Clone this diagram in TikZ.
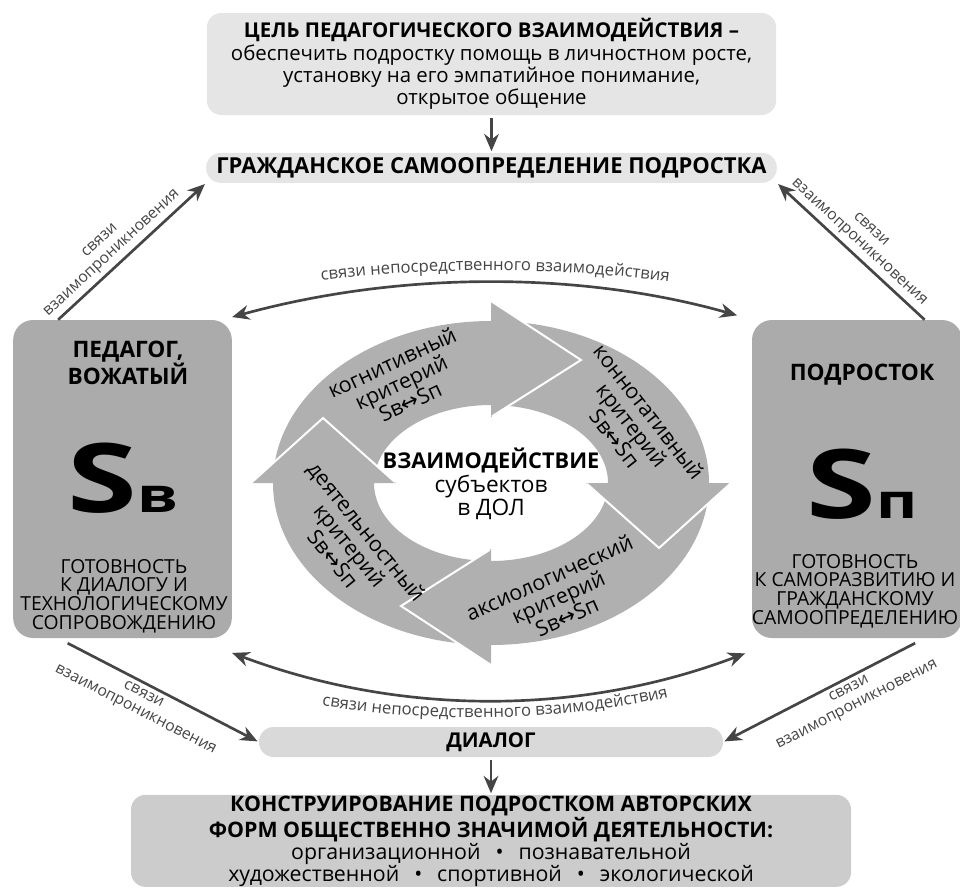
\documentclass[tikz,border=0pt]{standalone}
\usepackage{fontspec}
\setmainfont{Open Sans}
\newfontfamily\arrowfont{DejaVu Sans}
\usetikzlibrary{arrows.meta,positioning,decorations.text}

\definecolor{palegray}{gray}{0.90}
\definecolor{dialgray}{gray}{0.85}
\definecolor{formgray}{gray}{0.80}
\definecolor{subjgray}{gray}{0.67}
\definecolor{ringgray}{gray}{0.69}
\definecolor{linkgray}{gray}{0.27}

\newcommand{\boxfont}{\fontsize{15.3}{16.8}\selectfont}
\newcommand{\civicfont}{\fontsize{16.5}{17}\selectfont\bfseries}
\newcommand{\titlefont}{\fontsize{17}{17.2}\selectfont\bfseries}
\newcommand{\formfont}{\fontsize{16}{16.5}\selectfont}
\newcommand{\readyfont}{\fontsize{14.5}{13.9}\selectfont}
\newcommand{\labfont}{\fontsize{11.8}{13}\selectfont}
\newcommand{\curvefont}{\fontsize{12.5}{13.5}\selectfont}
\newcommand{\ringfont}{\fontsize{16}{16.2}\selectfont}
\newcommand{\centerfont}{\fontsize{17}{15.4}\selectfont}
\newcommand{\bigS}{\fontsize{72}{72}\selectfont\bfseries}
\newcommand{\smallS}{\fontsize{36}{36}\selectfont\bfseries}
\newcommand{\subjsym}[1]{\scalebox{1.32}[1]{\bigS S\smallS #1}}
\newcommand{\bothway}{{\arrowfont ↔}}
\newcommand{\dotsep}{\hspace{0.7em}•\hspace{0.7em}}

\begin{document}
\begin{tikzpicture}[x=0.75pt,y=-0.75pt,>={Stealth[length=13pt,width=11pt]},
    shorten >=1pt,node distance=28pt,
    box/.style={rounded corners=11pt,align=center,font=\boxfont,inner sep=0pt},
    subject/.style={box,rounded corners=15pt,fill=subjgray,minimum width=164pt,minimum height=238.5pt},
    link/.style={draw=linkgray,line width=2pt,->},
    crit/.style={align=center,font=\ringfont},
    sloped label/.style={sloped,align=center,font=\labfont,text=linkgray,inner sep=3pt}]

  \useasboundingbox (0,0) rectangle (960,889);

  \node[box,fill=palegray,minimum width=427pt,minimum height=76.5pt] (goal) at (491.5,64)
    {\textbf{ЦЕЛЬ ПЕДАГОГИЧЕСКОГО ВЗАИМОДЕЙСТВИЯ –}\\обеспечить подростку помощь в личностном росте,\\установку на его эмпатийное понимание,\\открытое общение};
  \node[box,fill=palegray,minimum width=428pt,minimum height=22.5pt,font=\civicfont] (civic) [below=of goal]
    {ГРАЖДАНСКОЕ САМООПРЕДЕЛЕНИЕ ПОДРОСТКА};

  \node[subject] (teacher) at (122.5,479) {};
  \node[subject,minimum width=157.5pt] (teen) at (857,479) {};

  \node[font=\titlefont,align=center] (tname) at (128,363) {ПЕДАГОГ,\\ВОЖАТЫЙ};
  \node[inner sep=0pt] (tsym) at (123,478) {\subjsym{в}};
  \node[font=\readyfont,align=center] (tready) at (124,596)
    {ГОТОВНОСТЬ\\К ДИАЛОГУ И\\ТЕХНОЛОГИЧЕСКОМУ\\СОПРОВОЖДЕНИЮ};

  \node[font=\titlefont] (pname) at (862,375) {ПОДРОСТОК};
  \node[inner sep=0pt] (psym) at (862,484) {\subjsym{п}};
  \node[font=\readyfont,align=center] (pready) at (855,591)
    {ГОТОВНОСТЬ\\К САМОРАЗВИТИЮ И\\ГРАЖДАНСКОМУ\\САМООПРЕДЕЛЕНИЮ};

  \node[box,fill=dialgray,minimum width=348pt,minimum height=22.5pt] (dialog) at (491,742)
    {\textbf{ДИАЛОГ}};
  \node[box,fill=formgray,minimum width=540pt,minimum height=69pt,font=\formfont] (forms) [below=of dialog]
    {\textbf{КОНСТРУИРОВАНИЕ ПОДРОСТКОМ АВТОРСКИХ}\\\textbf{ФОРМ ОБЩЕСТВЕННО ЗНАЧИМОЙ ДЕЯТЕЛЬНОСТИ:}\\
     организационной\dotsep познавательной\\
     художественной\dotsep спортивной\dotsep экологической};

  % ring of criteria
  \fill[ringgray,even odd rule] (491,483) ellipse [x radius=218,y radius=162]
                                (491,483) ellipse [x radius=117,y radius=78];
  \fill[ringgray] (491,301) -- (581,360) -- (491,417) -- cycle;
  \fill[ringgray] (731,483) -- (659,548) -- (586,483) -- cycle;
  \fill[ringgray] (491,665) -- (401,606) -- (491,549) -- cycle;
  \fill[ringgray] (251,483) -- (323,418) -- (396,483) -- cycle;
  \draw[white,line width=1.5pt] (491,301) -- (581,360) -- (491,417);
  \draw[white,line width=1.5pt] (731,483) -- (659,548) -- (586,483);
  \draw[white,line width=1.5pt] (491,665) -- (401,606) -- (491,549);
  \draw[white,line width=1.5pt] (251,483) -- (323,418) -- (396,483);

  \node[crit,rotate=25] (cogn) at (401,382) {когнитивный\\критерий\\Sв\bothway Sп};
  \node[crit,rotate=-52] (conn) at (632,425) {коннотативный\\критерий\\Sв\bothway Sп};
  \node[crit,rotate=24] (axio) at (558,597) {аксиологический\\критерий\\Sв\bothway Sп};
  \node[crit,rotate=-51] (activ) at (350,545) {деятельностный\\критерий\\Sв\bothway Sп};
  \node[align=center,font=\centerfont] (inter) at (491,484)
    {{\fontsize{16.3}{15.4}\selectfont\bfseries ВЗАИМОДЕЙСТВИЕ}\\субъектов\\в ДОЛ};

  \path
    (goal) edge[link,shorten <=2pt] (civic)
    (dialog) edge[link,shorten <=2pt] (forms)
    (teacher.112) edge[link] node[sloped label,above,pos=0.42] {связи\\взаимопроникновения} (civic.south west)
    (teen.67) edge[link] node[sloped label,above] {связи\\взаимопроникновения} (civic.south east)
    (teacher.248) edge[link,shorten <=8pt] node[sloped label,below,pos=0.45] {связи\\взаимопроникновения} (dialog.west)
    (teen.293) edge[link,shorten <=8pt] node[sloped label,below,pos=0.4] {связи\\взаимопроникновения} (dialog.east);

  \draw[link,<->] ([yshift=2pt]teacher.north east) .. controls (400,271) and (580,271)
    .. ([xshift=-10pt,yshift=3pt]teen.north west);
  \draw[link,<->] ([yshift=-11pt]teacher.south east) .. controls (400,716) and (580,716)
    .. ([xshift=-4pt,yshift=-11pt]teen.south west);

  \path[decorate,decoration={text along path,text align=center,text color=linkgray,
      text={|\curvefont|связи непосредственного взаимодействия}}]
    (300,283) .. controls (420,266) and (565,266) .. (690,285);
  \path[decorate,decoration={text along path,text align=center,text color=linkgray,
      text={|\curvefont|связи непосредственного взаимодействия}}]
    (300,702) .. controls (420,724) and (565,724) .. (690,692);
\end{tikzpicture}
\end{document}
